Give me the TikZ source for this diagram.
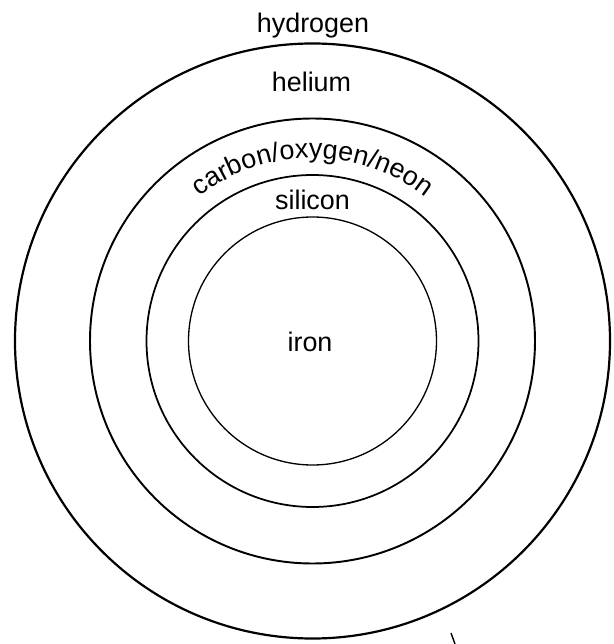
\documentclass[tikz,border=0pt]{standalone}
\usepackage{fontspec}
\setmainfont{Liberation Sans}
\usetikzlibrary{decorations.text}

\newcommand{\shellfont}{\fontsize{15.3}{18}\selectfont}

\begin{document}
\begin{tikzpicture}[
shelltext/.style={anchor=base, font=\shellfont}
]

\useasboundingbox (-6.25,-6.06) rectangle (6.01,6.82);

% Couches
\foreach \r/\w in {
5.95/1.25,
4.45/1.1,
3.32/1.0,
2.48/0.75
}
{
\draw[line width=\w pt] (0,0) circle (\r);
}

% Noms
\node[shelltext] (hydrogen) at (0.01,6.16) {hydrogen};
\node[shelltext] (helium) at (-0.02,4.98) {helium};
\node[shelltext] (silicon) at (0,2.62) {silicon};
\node[shelltext] (iron) at (-0.05,-0.22) {iron};

\path[decorate, decoration={text along path,
  text={|\shellfont|carbon/oxygen/neon}, text align=center}]
  (150:3.66) arc (150:30:3.66);

% Trait
\coordinate (tickA) at (2.77,-5.84);
\coordinate (tickB) at (2.85,-6.06);
\draw[line width=0.8pt] (tickA) -- (tickB);

\end{tikzpicture}
\end{document}
